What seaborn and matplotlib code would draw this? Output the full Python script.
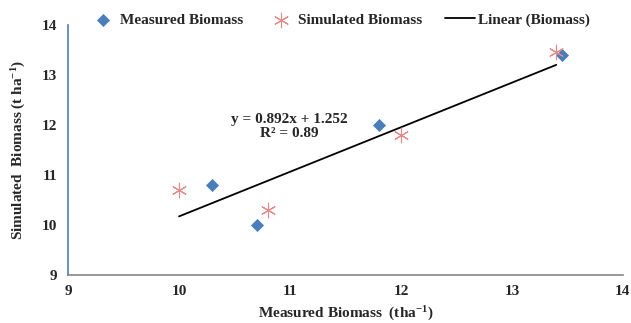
import numpy as np
import pandas as pd
import matplotlib.pyplot as plt
import seaborn as sns

# values
measured_x = [10.3, 10.7, 11.8, 13.45]
measured_y = [10.8, 10.0, 12.0, 13.4]
simulated_x = [10.0, 10.8, 12.0, 13.4]
simulated_y = [10.7, 10.3, 11.8, 13.45]
trend_x = [10.0, 13.4]
trend_y = [10.17, 13.20]
x_ticks = [9, 10, 11, 12, 13, 14]
y_ticks = [9, 10, 11, 12, 13, 14]

sns.set_style("white")
plt.rcParams["font.family"] = ["Liberation Serif", "DejaVu Serif"]
plt.rcParams["font.weight"] = "bold"
plt.rcParams["mathtext.fontset"] = "custom"
plt.rcParams["mathtext.rm"] = "Liberation Serif:bold"
plt.rcParams["mathtext.default"] = "rm"

df_meas = pd.DataFrame({"x": measured_x, "y": measured_y})
df_sim = pd.DataFrame({"x": simulated_x, "y": simulated_y})
df_trend = pd.DataFrame({"x": trend_x, "y": trend_y})

fig = plt.figure(figsize=(6.31, 3.23), dpi=100)
ax = fig.add_axes([0.108, 0.149, 0.879, 0.774])

sns.scatterplot(data=df_meas, x="x", y="y", ax=ax, marker="D", s=38,
                color="#4A7EBB", edgecolor="#4A7EBB", linewidth=0.5,
                label="Measured Biomass", zorder=3)
sns.scatterplot(data=df_sim, x="x", y="y", ax=ax, marker=(6, 2, 0), s=110,
                color="#E38A8A", linewidth=0.8,
                label="Simulated Biomass", zorder=3)
sns.lineplot(data=df_trend, x="x", y="y", ax=ax, color="black", linewidth=1.3,
             label="Linear (Biomass)", zorder=2)

ax.set_xlim(9, 14)
ax.set_ylim(9, 14)
ax.set_xticks(x_ticks)
ax.set_yticks(y_ticks)
ax.tick_params(axis="x", direction="out", length=4, width=1, color="#868686",
               labelsize=11, pad=3)
ax.tick_params(axis="y", direction="out", length=4, width=1, color="#4A7EBB",
               labelsize=11, pad=4)
for lab in ax.get_xticklabels() + ax.get_yticklabels():
    lab.set_fontweight("bold")
for side in ["top", "right"]:
    ax.spines[side].set_visible(False)
ax.spines["bottom"].set_color("#868686")
ax.spines["left"].set_color("#4A7EBB")
ax.spines["bottom"].set_linewidth(1.2)
ax.spines["left"].set_linewidth(1.2)

ax.set_xlabel("Measured Biomass  (tha$^{-1}$)", fontsize=11, fontweight="bold", labelpad=5)
ax.set_ylabel("Simulated  Biomass (t ha$^{-1}$)", fontsize=11, fontweight="bold", labelpad=10)

ax.text(10.99, 11.97, "y = 0.892x + 1.252\nR\u00b2 = 0.89", ha="center", va="center",
        fontsize=11, fontweight="bold", linespacing=1.15)

leg = ax.legend(loc="center left", bbox_to_anchor=(0.018, 1.02), ncol=3, frameon=False,
                handlelength=2.0, handletextpad=0.15, columnspacing=1.45,
                borderaxespad=0.2, prop={"weight": "bold", "size": 11})

fig.savefig("out.png", dpi=100)
